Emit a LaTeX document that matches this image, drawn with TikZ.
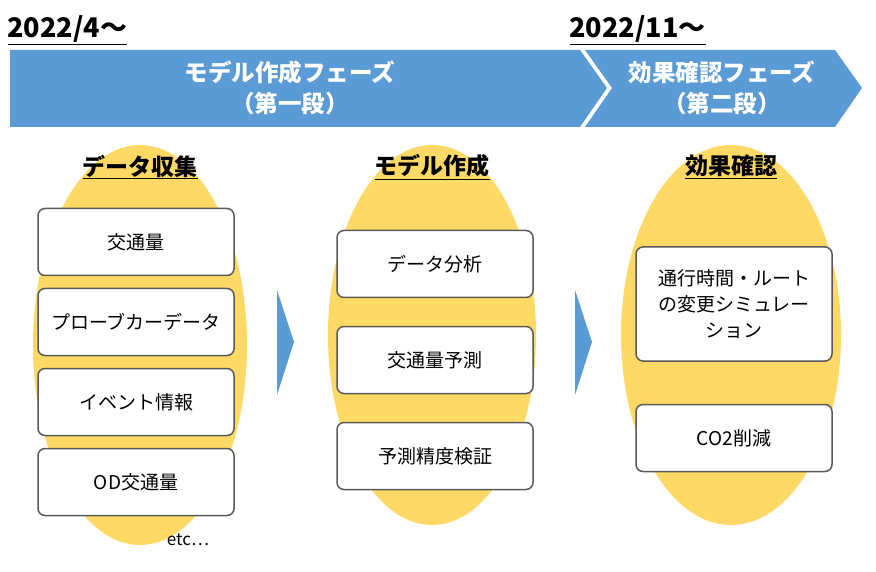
\documentclass[tikz,border=0pt]{standalone}
\usepackage{fontspec}
\setmainfont{Noto Sans CJK JP}
\definecolor{bandblue}{HTML}{5B9BD5}
\definecolor{ovalyellow}{HTML}{FFD966}
\begin{document}
\begin{tikzpicture}[x=1pt,y=-1pt,line join=round,
  itembox/.style={draw=gray!70!black,line width=1.5pt,fill=white,rounded corners=7pt,
    minimum width=196pt,minimum height=67pt,align=center,font=\fontsize{19}{26}\selectfont},
  phasetext/.style={text=white,align=center,font=\fontsize{23.5}{31}\selectfont\bfseries},
  headtext/.style={font=\fontsize{23}{26}\selectfont\bfseries},
  datetext/.style={font=\fontsize{27}{28}\selectfont\bfseries,anchor=west}]
  \useasboundingbox (0,0) rectangle (876,572);
  % Dates
  \node[datetext] (date1) at (4,30) {\underline{2022/4～}};
  \node[datetext] (date2) at (566,30) {\underline{2022/11～}};
  % Phase bands
  \fill[bandblue] (10,50) -- (580,50) -- (607,88) -- (580,127) -- (10,127) -- cycle;
  \fill[bandblue] (585,50) -- (835,50) -- (862,88) -- (835,127) -- (585,127) -- (612,88) -- cycle;
  \node[phasetext] (phase1) at (290,88) {モデル作成フェーズ\\（第一段）};
  \node[phasetext] (phase2) at (722,88) {効果確認フェーズ\\（第二段）};
  % Ovals
  \fill[ovalyellow] (140,345) ellipse (107 and 200);
  \fill[ovalyellow] (432,335) ellipse (104 and 190);
  \fill[ovalyellow] (731,335) ellipse (110 and 190);
  \node[headtext] (head1) at (140,167) {\underline{データ収集}};
  \node[headtext] (head2) at (432,167) {\underline{モデル作成}};
  \node[headtext] (head3) at (731,167) {\underline{効果確認}};
  % Step arrows
  \fill[bandblue] (277,290) -- (294,342) -- (277,395) -- cycle;
  \fill[bandblue] (575,290) -- (592,342) -- (575,395) -- cycle;
  % Items
  \node[itembox] (traffic) at (136,242) {交通量};
  \node[itembox] (probe) at (136,322) {プローブカーデータ};
  \node[itembox] (event) at (136,402) {イベント情報};
  \node[itembox] (od) at (136,482) {OD交通量};
  \node[font=\fontsize{17}{20}\selectfont] (etc) at (188,540) {etc…};
  \node[itembox] (analysis) at (435,264) {データ分析};
  \node[itembox] (forecast) at (435,360) {交通量予測};
  \node[itembox] (verify) at (435,456) {予測精度検証};
  \node[itembox,minimum height=114pt] (simulate) at (734,304) {通行時間・ルート\\の変更シミュレー\\ション};
  \node[itembox] (co2) at (734,438) {CO2削減};
\end{tikzpicture}
\end{document}
